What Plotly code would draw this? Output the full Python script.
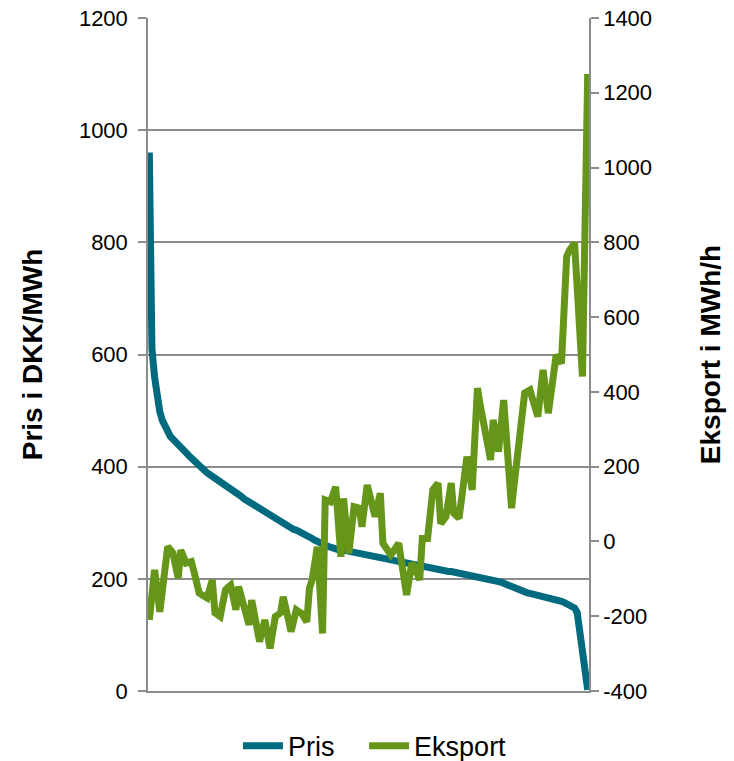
import plotly.graph_objects as go

# Hourly price (sorted high to low) and the matching export for each hour
pris = [
    960, 610, 560, 520, 498, 482, 470, 461, 454, 449,
    445, 441, 436, 431, 425, 420, 415, 410, 405, 400,
    396, 392, 389, 386, 383, 380, 377, 374, 371, 368,
    364, 361, 357, 354, 350, 347, 343, 340, 336, 333,
    330, 327, 324, 321, 318, 316, 313, 311, 308, 305,
    302, 299, 296, 293, 290, 288, 287, 285, 283, 281,
    278, 275, 272, 269, 266, 264, 262, 260, 258, 256,
    254, 253, 252, 252, 251, 250, 250, 249, 248, 247,
    246, 245, 244, 243, 242, 241, 240, 239, 238, 237,
    236, 235, 234, 233, 232, 231, 230, 229, 229, 228,
    227, 225, 223, 222, 220, 219, 218, 217, 216, 216,
    215, 215, 214, 214, 213, 213, 212, 212, 211, 210,
    210, 209, 208, 207, 207, 206, 205, 204, 202, 201,
    199, 198, 197, 195, 194, 192, 190, 188, 186, 183,
    181, 178, 177, 176, 175, 174, 173, 172, 171, 171,
    170, 169, 167, 166, 164, 163, 161, 160, 158, 156,
    154, 152, 148, 140, 105, 70, 36, 2,
]

eksport = [
    -210, -140, -76, -130, -188, -130, -70, -14, -22, -31,
    -65, -98, -23, -40, -58, -56, -54, -80, -110, -138,
    -143, -148, -151, -127, -103, -191, -196, -201, -165, -130,
    -123, -117, -150, -183, -121, -146, -172, -198, -223, -157,
    -194, -231, -268, -239, -210, -248, -286, -243, -201, -196,
    -191, -148, -179, -210, -241, -212, -183, -188, -192, -204,
    -215, -125, -103, -60, -14, -130, -246, 111, 108, 106,
    126, 146, 52, -41, 115, 40, -32, 30, 93, 91,
    89, 39, 95, 151, 123, 95, 66, 98, 129, -5,
    -15, -26, -36, -26, -15, -5, -51, -97, -143, -100,
    -58, -68, -85, -103, 8, 8, 8, 73, 138, 147,
    156, 48, 57, 66, 111, 156, 75, 68, 62, 117,
    172, 227, 183, 138, 274, 410, 367, 323, 280, 249,
    218, 325, 283, 240, 309, 378, 282, 185, 89, 153,
    216, 280, 339, 397, 401, 405, 381, 358, 334, 396,
    459, 401, 343, 395, 447, 499, 488, 476, 619, 762,
    778, 790, 798, 680, 560, 441, 845, 1250,
]

hours = list(range(len(pris)))

left_ticks = [0, 200, 400, 600, 800, 1000, 1200]
right_ticks = [-400, -200, 0, 200, 400, 600, 800, 1000, 1200, 1400]
right_labels = [str(v) for v in right_ticks]  # plain hyphen for negatives

FONT = "Liberation Sans, Arial, sans-serif"
GRID = "#8c8c8c"

fig = go.Figure()
fig.add_trace(go.Scatter(
    x=hours, y=pris, name="Pris", mode="lines",
    line=dict(color="#006a7e", width=7), yaxis="y", legend="legend",
))
fig.add_trace(go.Scatter(
    x=hours, y=eksport, name="Eksport", mode="lines",
    line=dict(color="#659619", width=7), yaxis="y2", legend="legend2",
))

legend_style = dict(orientation="h", xanchor="left", y=-0.082,
                    yanchor="middle", font=dict(size=27), itemwidth=40)

fig.update_layout(
    width=734, height=761,
    margin=dict(l=148, r=145, t=18, b=70, autoexpand=False),
    paper_bgcolor="white", plot_bgcolor="white",
    font=dict(family=FONT, size=22, color="black"),
    showlegend=True,
    legend=dict(x=0.204, **legend_style),
    legend2=dict(x=0.490, **legend_style),
    xaxis=dict(range=[-0.5, len(pris) - 0.5], showgrid=False, zeroline=False,
               showticklabels=False, ticks="", showline=True,
               linecolor=GRID, linewidth=1.5),
    yaxis=dict(
        range=[0, 1200], tickvals=left_ticks, showgrid=True,
        gridcolor=GRID, gridwidth=1.5, zeroline=False,
        showline=True, linecolor=GRID, linewidth=1.5,
        ticks="outside", ticklen=8, tickcolor=GRID, tickwidth=1.5,
        ticklabelstandoff=6, tickfont=dict(size=22),
        title=dict(text="<b>Pris i DKK/MWh</b>", standoff=28,
                   font=dict(size=28)),
    ),
    yaxis2=dict(
        range=[-400, 1400], tickvals=right_ticks, ticktext=right_labels,
        overlaying="y", side="right", showgrid=False, zeroline=False,
        showline=True, linecolor=GRID, linewidth=1.5,
        ticks="outside", ticklen=8, tickcolor=GRID, tickwidth=1.5,
        tickfont=dict(size=22),
        title=dict(text="<b>Eksport i MWh/h</b>", standoff=49,
                   font=dict(size=28)),
    ),
)

fig.write_html("out.html")
